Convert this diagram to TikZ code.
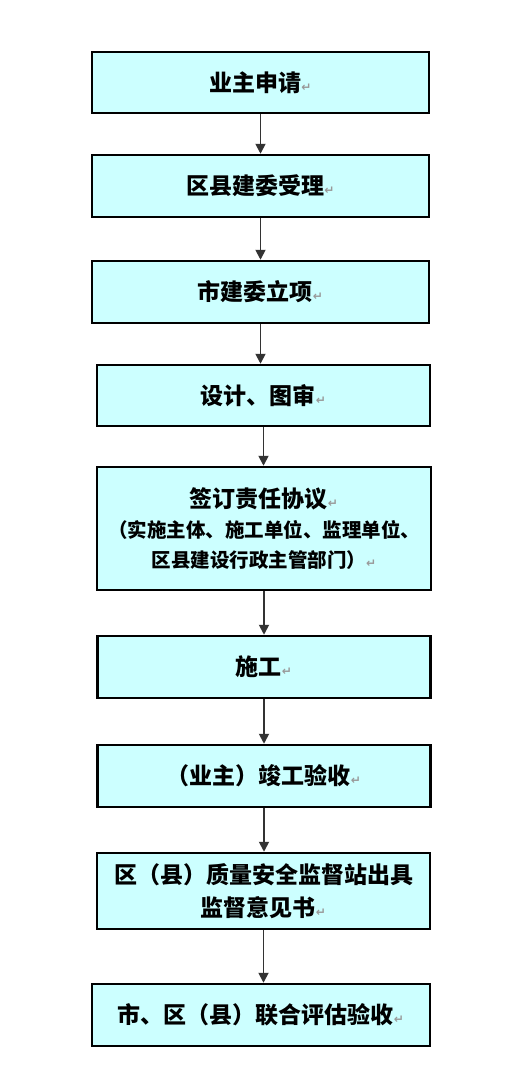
\documentclass[tikz,border=0pt]{standalone}
\usepackage{fontspec}
\usetikzlibrary{arrows.meta}
\newfontfamily\cjk{Noto Sans CJK SC}
\newfontfamily\symfont{DejaVu Sans}
\definecolor{boxcyan}{RGB}{204,255,255}
\newcommand{\retmark}{{\symfont\fontsize{12}{12}\selectfont\color{black!40}↵}}

\begin{document}
\begin{tikzpicture}[x=1pt,y=-1pt,
    stepbox/.style={draw=black,line width=2.5pt,fill=boxcyan,inner sep=0pt,align=center,
      font=\cjk\bfseries\fontsize{23}{33}\selectfont},
    flowarrow/.style={-{Stealth[inset=0pt,length=10pt,width=10pt]},line width=1.8pt,draw=black!80}]
    \useasboundingbox (0,0) rectangle (530,1087);
    %申请与立项
    \node[stepbox,minimum width=337pt,minimum height=61pt] (apply) at (260.5,82.5) {业主申请\retmark};
    \node[stepbox,minimum width=337pt,minimum height=62pt] (accept) at (260.5,186) {区县建委受理\retmark};
    \node[stepbox,minimum width=337pt,minimum height=62pt] (approve) at (260.5,292) {市建委立项\retmark};
    \node[stepbox,minimum width=333pt,minimum height=61pt] (design) at (263.5,395.5) {设计、图审\retmark};
    %责任协议
    \node[stepbox,minimum width=334pt,minimum height=123pt,font=\cjk\bfseries\fontsize{19.5}{30}\selectfont] (pact) at (264,528.5)
      {{\fontsize{23}{30}\selectfont 签订责任协议\retmark}\\（实施主体、施工单位、监理单位、\\区县建设行政主管部门）\retmark};
    %施工与验收
    \node[stepbox,minimum width=333pt,minimum height=62pt] (build) at (264,667) {施工\retmark};
    \node[stepbox,minimum width=333pt,minimum height=62pt] (finish) at (264,776) {（业主）竣工验收\retmark};
    \node[stepbox,minimum width=333pt,minimum height=76pt] (supervise) at (263.5,891) {区（县）质量安全监督站出具\\监督意见书\retmark};
    \node[stepbox,minimum width=338pt,minimum height=62pt] (joint) at (261,1015) {市、区（县）联合评估验收\retmark};
    %连线
    \foreach \from/\to in {apply/accept,accept/approve,approve/design,design/pact,pact/build,build/finish,finish/supervise,supervise/joint}
      \draw[flowarrow] (\from.south) -- (\from.south |- \to.north);
\end{tikzpicture}
\end{document}
